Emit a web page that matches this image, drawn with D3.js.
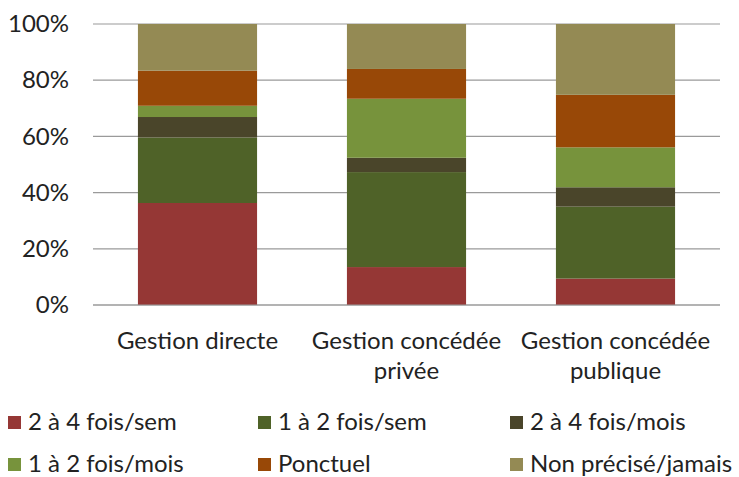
<!DOCTYPE html>
<html>
<head>
<meta charset="utf-8">
<script src="https://cdn.jsdelivr.net/npm/d3@7/dist/d3.min.js"></script>
<style>
  html, body { margin: 0; padding: 0; background: #fff; }
  svg { display: block; font-family: Lato, "Liberation Sans", sans-serif; }
</style>
</head>
<body>
<svg id="chart" width="739" height="477"></svg>
<script>
// Categories (two-line labels) and stacked series, in percent
const categories = ["Gestion directe", "Gestion concédée privée", "Gestion concédée publique"];
const categoryLines = [["Gestion directe"], ["Gestion concédée", "privée"], ["Gestion concédée", "publique"]];
const seriesNames = ["2 à 4 fois/sem", "1 à 2 fois/sem", "2 à 4 fois/mois", "1 à 2 fois/mois", "Ponctuel", "Non précisé/jamais"];
const seriesColors = ["#953735", "#4F6228", "#4A452A", "#77933C", "#984807", "#948A54"];
const s2a4sem   = [36.3, 13.5, 9.4];
const s1a2sem   = [23.3, 33.8, 25.6];
const s2a4mois  = [7.3, 5.1, 6.9];
const s1a2mois  = [4.0, 21.0, 14.2];
const ponctuel  = [12.5, 10.6, 18.7];
const nonPrecis = [16.6, 16.0, 25.2];
const yTicks = [0, 20, 40, 60, 80, 100];

const seriesValues = [s2a4sem, s1a2sem, s2a4mois, s1a2mois, ponctuel, nonPrecis];
const table = categories.map((c, i) => {
  const row = { category: c };
  seriesNames.forEach((s, j) => { row[s] = seriesValues[j][i]; });
  return row;
});

const FS = 24;
const svg = d3.select("#chart");
const margin = { left: 93, right: 19, top: 24, bottom: 172 };
const W = 739, H = 477;

const x = d3.scaleBand().domain(categories).range([margin.left, W - margin.right]).paddingInner(0.43).paddingOuter(0.215);
const y = d3.scaleLinear().domain([0, 100]).range([H - margin.bottom, margin.top]);

// horizontal gridlines
svg.append("g")
  .selectAll("line").data(yTicks).join("line")
  .attr("x1", margin.left).attr("x2", W - margin.right)
  .attr("y1", d => y(d)).attr("y2", d => y(d))
  .attr("stroke", "#9a9a9a").attr("stroke-width", 1.2);

// y axis labels
const yAxis = d3.axisLeft(y).tickValues(yTicks).tickFormat(d => d + "%").tickSize(0).tickPadding(24);
const ya = svg.append("g").attr("transform", `translate(${margin.left},0)`).call(yAxis);
ya.select(".domain").remove();
ya.selectAll("text").attr("font-size", FS).attr("fill", "#222").attr("font-family", "Lato, sans-serif");

// stacked bars
const stack = d3.stack().keys(seriesNames);
const layers = stack(table);
svg.append("g")
  .selectAll("g").data(layers).join("g")
  .attr("fill", (d, i) => seriesColors[i])
  .selectAll("rect").data(d => d).join("rect")
  .attr("x", d => x(d.data.category))
  .attr("width", x.bandwidth())
  .attr("y", d => y(d[1]))
  .attr("height", d => y(d[0]) - y(d[1]));

// baseline
svg.append("line")
  .attr("x1", margin.left).attr("x2", W - margin.right)
  .attr("y1", y(0)).attr("y2", y(0))
  .attr("stroke", "#9a9a9a").attr("stroke-width", 1.2);

// category labels
const catG = svg.append("g");
categories.forEach((c, i) => {
  const t = catG.append("text")
    .attr("text-anchor", "middle")
    .attr("font-size", FS)
    .attr("fill", "#222");
  categoryLines[i].forEach((line, k) => {
    t.append("tspan")
      .attr("x", x(c) + x.bandwidth() / 2)
      .attr("y", 349 + k * 30)
      .text(line);
  });
});

// legend
const legendX = [8, 258, 510];
const legendY = [422, 464];
const lg = svg.append("g");
seriesNames.forEach((s, i) => {
  const col = i % 3, row = Math.floor(i / 3);
  const g = lg.append("g").attr("transform", `translate(${legendX[col]},${legendY[row]})`);
  g.append("rect").attr("x", 0).attr("y", -6).attr("width", 13).attr("height", 13).attr("fill", seriesColors[i]);
  g.append("text").attr("x", 20).attr("y", 0).attr("dy", "0.35em")
    .attr("font-size", FS).attr("fill", "#222").text(s);
});
</script>
</body>
</html>
